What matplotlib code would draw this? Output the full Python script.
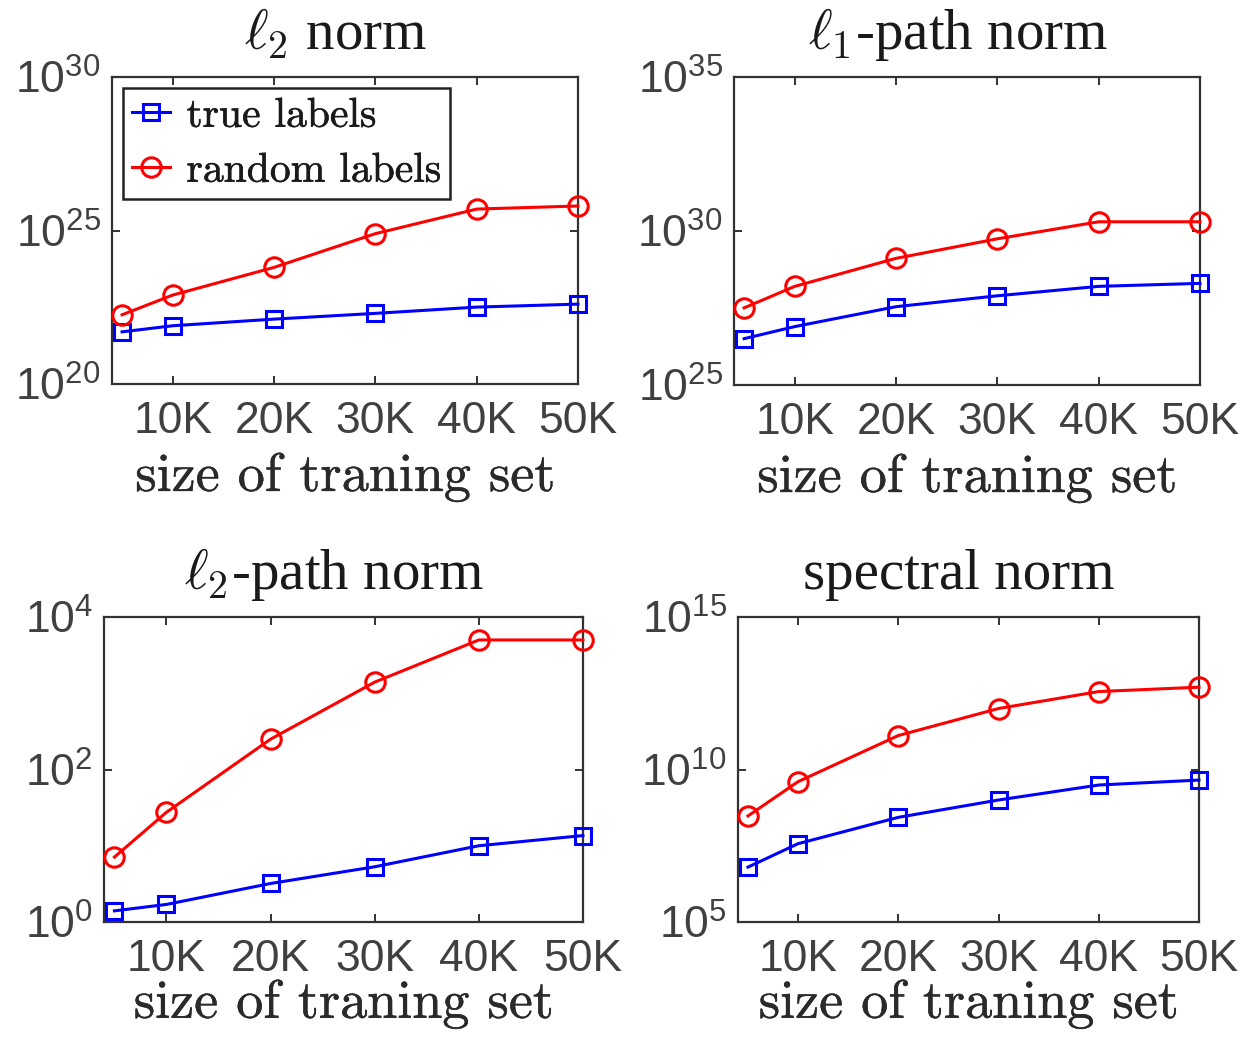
import matplotlib
matplotlib.use("Agg")
import matplotlib.pyplot as plt
import matplotlib.patheffects as pe
from matplotlib.ticker import FixedLocator, FixedFormatter, NullLocator

plt.rcParams['mathtext.fontset'] = 'cm'

# training set sizes
train_size = [5000, 10000, 20000, 30000, 40000, 50000]
xtick_values = [10000, 20000, 30000, 40000, 50000]
xtick_labels = ['10K', '20K', '30K', '40K', '50K']

# norms measured with true / random labels
l2_true = [5.0e21, 7.9e21, 1.3e22, 2.0e22, 3.2e22, 4.0e22]
l2_random = [1.8e22, 7.9e22, 6.3e23, 7.9e24, 5.0e25, 6.3e25]

l1path_true = [3.2e26, 7.9e26, 3.5e27, 7.9e27, 1.6e28, 2.0e28]
l1path_random = [3.2e27, 1.6e28, 1.3e29, 5.6e29, 2.0e30, 2.0e30]

l2path_true = [1.4, 1.7, 3.2, 5.3, 10.0, 13.6]
l2path_random = [7.1, 27.5, 250, 1400, 5000, 5000]

spectral_true = [6.3e6, 3.7e7, 2.7e8, 1.0e9, 3.1e9, 4.5e9]
spectral_random = [3.0e8, 4.0e9, 1.3e11, 1.0e12, 3.6e12, 5.0e12]

panels = [
    dict(title=r'$\ell_2$ norm', true=l2_true, rand=l2_random,
         yexp=[20, 25, 30], rect=[0.0900, 0.6297, 0.3746, 0.2960],
         legend=True, labelpad=8),
    dict(title=r'$\ell_1$-path norm', true=l1path_true, rand=l1path_random,
         yexp=[25, 30, 35], rect=[0.5900, 0.6287, 0.3746, 0.2970],
         legend=False, labelpad=8),
    dict(title=r'$\ell_2$-path norm', true=l2path_true, rand=l2path_random,
         yexp=[0, 2, 4], rect=[0.0836, 0.1109, 0.3850, 0.2941],
         legend=False, labelpad=0),
    dict(title='spectral norm', true=spectral_true, rand=spectral_random,
         yexp=[5, 10, 15], rect=[0.5932, 0.1109, 0.3706, 0.2941],
         legend=False, labelpad=0),
]

TICK_COLOR = '#404040'
SPINE_COLOR = '#333333'

fig = plt.figure(figsize=(12.44, 10.37), dpi=100)

for p in panels:
    ax = fig.add_axes(p['rect'])
    ax.set_yscale('log')
    ax.plot(train_size, p['true'], color='blue', marker='s', markersize=11,
            markerfacecolor='none', markeredgewidth=2.2, linewidth=2.2,
            label='true labels', clip_on=False, zorder=3)
    ax.plot(train_size, p['rand'], color='red', marker='o', markersize=14,
            markerfacecolor='none', markeredgewidth=2.2, linewidth=2.2,
            label='random labels', clip_on=False, zorder=3)

    ax.set_xlim(4000, 50000)
    lo, mid, hi = p['yexp']
    ax.set_ylim(10.0 ** lo, 10.0 ** hi)

    ax.xaxis.set_major_locator(FixedLocator(xtick_values))
    ax.xaxis.set_major_formatter(FixedFormatter(xtick_labels))
    ax.xaxis.set_minor_locator(NullLocator())
    yt = [10.0 ** e for e in p['yexp']]
    ax.yaxis.set_major_locator(FixedLocator(yt))
    ax.yaxis.set_major_formatter(FixedFormatter(
        [r'$\mathregular{10^{%d}}$' % e for e in p['yexp']]))
    ax.yaxis.set_minor_locator(NullLocator())

    ax.tick_params(which='major', direction='in', length=6, width=1.3,
                   top=True, right=True, color='#222222',
                   labelsize=32, labelcolor=TICK_COLOR)
    ax.tick_params(axis='x', pad=12)
    ax.tick_params(axis='y', pad=8)
    for lab in ax.get_xticklabels() + ax.get_yticklabels():
        lab.set_fontfamily('Liberation Sans')

    for s in ax.spines.values():
        s.set_color(SPINE_COLOR)
        s.set_linewidth(1.6)

    ax.set_title(p['title'], fontsize=41, family='Liberation Serif',
                 color='#1a1a1a', pad=20, x=0.48)
    xl = ax.set_xlabel('size of traning set', fontsize=39, family='cmr10',
                       color='#2a2a2a', labelpad=p['labelpad'])
    xl.set_path_effects([pe.withStroke(linewidth=0.3, foreground='#2a2a2a')])

    if p['legend']:
        leg = ax.legend(loc='upper left', bbox_to_anchor=(0.024, 0.964),
                        borderaxespad=0, prop=dict(family='cmr10', size=30),
                        handlelength=0.9, handletextpad=0.4,
                        labelspacing=0.42, borderpad=0.22,
                        fancybox=False, framealpha=1, edgecolor='#222222')
        leg.get_frame().set_linewidth(1.8)
        for t in leg.get_texts():
            t.set_color('#1a1a1a')
            t.set_path_effects([pe.withStroke(linewidth=0.4,
                                              foreground='#1a1a1a')])

fig.savefig('out.png', dpi=100)
